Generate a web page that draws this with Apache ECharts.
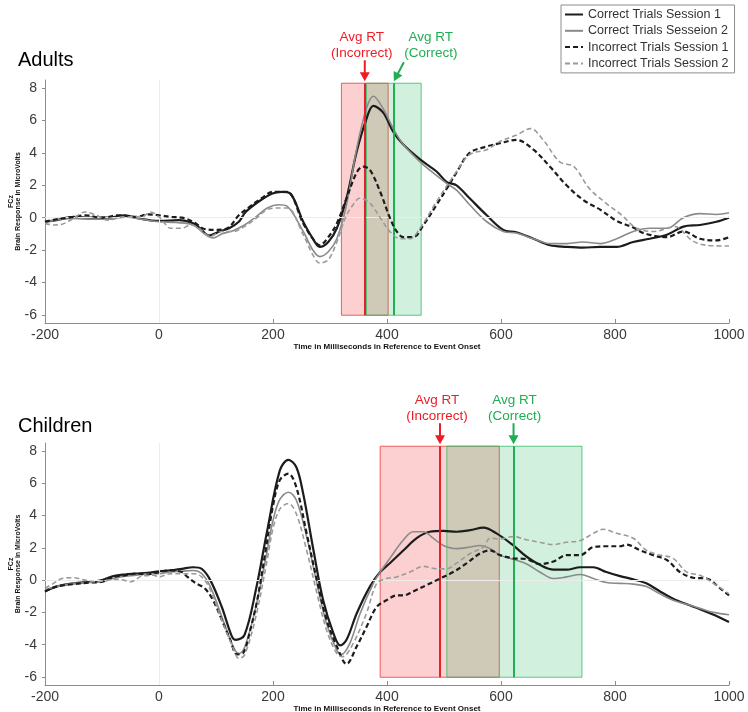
<!DOCTYPE html>
<html>
<head>
<meta charset="utf-8">
<script src="https://cdn.jsdelivr.net/npm/echarts@6/dist/echarts.min.js"></script>
<style>
html,body{margin:0;padding:0;background:#fff;}
#chart{width:748px;height:712px;}
</style>
</head>
<body>
<div id="chart"></div>
<script>
// ---------- DATA ----------
const seriesNames = ['Correct Trials Session 1','Correct Trials Sesseion 2','Incorrect Trials Session 1','Incorrect Trials Session 2'];
const panelTitles = ['Adults','Children'];
const yAxisTitle = ['FCz', 'Brain Response in MicroVolts'];
const xTicks = [-200,0,200,400,600,800,1000];
const yTicks = [-6,-4,-2,0,2,4,6,8];

// Adults: [time ms, microvolts]
const adultCorrect1 = [[-200,-0.25],[-180,-0.15],[-150,0.05],[-120,0],[-90,0],[-60,0.15],[-35,-0.05],[0,-0.2],[35,-0.15],[60,-0.35],[72,-0.65],[88,-1.1],[106,-0.85],[123,-0.65],[140,-0.25],[152,0.35],[175,1.0],[199,1.5],[215,1.6],[230,1.5],[253,-0.25],[270,-1.3],[282,-1.8],[297,-1.5],[312,-0.65],[329,1.2],[347,4.1],[364,6.1],[376,6.9],[393,6.5],[411,5.3],[429,4.5],[458,3.6],[487,2.85],[505,2.2],[522,2.0],[545,1.2],[575,0.15],[604,-0.75],[627,-0.9],[657,-1.3],[686,-1.7],[715,-1.8],[744,-1.85],[774,-1.8],[803,-1.8],[832,-1.5],[861,-1.3],[891,-1.05],[920,-0.55],[949,-0.45],[978,-0.25],[1000,0]];
const adultCorrect2 = [[-200,-0.25],[-180,-0.15],[-150,-0.05],[-120,-0.1],[-90,-0.1],[-60,0.05],[-30,-0.1],[0,-0.25],[30,-0.3],[60,-0.45],[80,-1.0],[95,-1.25],[110,-1.0],[130,-0.8],[150,-0.45],[170,0.05],[190,0.6],[210,0.8],[225,0.7],[253,-0.85],[270,-2.0],[282,-2.4],[297,-2.1],[312,-1.3],[329,0.8],[347,4.3],[364,6.75],[376,7.5],[393,6.75],[411,5.5],[429,4.5],[458,3.45],[487,2.6],[505,2.1],[522,1.7],[545,0.8],[575,-0.25],[604,-0.85],[627,-0.95],[657,-1.3],[686,-1.6],[715,-1.6],[744,-1.5],[774,-1.6],[803,-1.3],[832,-0.85],[861,-0.65],[891,-0.65],[920,0],[949,0.25],[978,0.2],[1000,0.3]];
const adultIncorrect1 = [[-200,-0.25],[-180,-0.1],[-150,0.05],[-130,0.15],[-100,0],[-70,0.15],[-40,0.05],[-20,0.2],[0,0.15],[20,0.05],[40,0],[60,-0.25],[80,-0.7],[100,-0.75],[120,-0.65],[140,0.15],[160,0.7],[180,1.2],[200,1.6],[224,1.6],[253,-0.35],[270,-1.3],[282,-1.7],[297,-1.2],[312,-0.35],[329,1.2],[347,2.8],[358,3.15],[370,2.95],[388,1.6],[405,0],[417,-0.85],[429,-1.2],[446,-1.2],[464,-0.45],[487,0.8],[505,1.8],[522,2.8],[545,4.0],[575,4.4],[598,4.6],[627,4.8],[657,4.2],[686,3.15],[715,2.0],[744,1.1],[774,0.5],[803,-0.2],[832,-0.6],[850,-0.95],[891,-1.2],[920,-0.85],[949,-1.3],[978,-1.4],[1000,-1.2]];
const adultIncorrect2 = [[-200,-0.35],[-185,-0.45],[-170,-0.4],[-150,-0.05],[-130,0.35],[-110,0.15],[-90,-0.15],[-70,0],[-50,0.05],[-30,0.05],[-15,0.35],[0,0.05],[10,-0.35],[20,-0.65],[40,-0.65],[55,-0.45],[70,-0.65],[90,-1.15],[110,-0.85],[130,-0.85],[150,-0.55],[170,-0.05],[190,0.5],[210,0.6],[225,0.6],[253,-1.05],[270,-2.3],[282,-2.8],[297,-2.6],[312,-1.5],[329,0.15],[347,1.1],[352,1.2],[370,0.9],[388,0],[405,-0.85],[423,-1.3],[440,-1.3],[458,-0.65],[487,1.0],[522,2.85],[545,3.9],[575,4.2],[598,4.7],[627,5.1],[652,5.5],[674,4.8],[703,3.45],[728,3.15],[755,1.8],[784,0.9],[812,0.15],[838,-0.65],[868,-0.85],[905,-0.55],[935,-1.4],[960,-1.7],[1000,-1.75]];

// Children: [time ms, microvolts]
const childCorrect1 = [[-200,-0.7],[-180,-0.4],[-150,-0.2],[-120,-0.1],[-100,0],[-80,0.25],[-60,0.35],[-40,0.4],[-20,0.45],[0,0.55],[20,0.6],[40,0.7],[60,0.8],[75,0.7],[90,0],[110,-1.65],[128,-3.5],[135,-3.7],[150,-3.4],[170,-0.6],[190,3.1],[212,6.8],[227,7.45],[241,7.0],[253,5.35],[271,1.85],[288,-1.25],[306,-3.3],[318,-4.05],[329,-3.7],[347,-2.05],[370,-0.4],[388,0.5],[405,1.05],[429,1.85],[452,2.6],[475,3.0],[499,3.05],[522,3.0],[546,3.1],[569,3.25],[592,2.9],[620,2.2],[645,1.45],[668,0.95],[692,0.65],[715,0.65],[739,0.8],[762,0.8],[785,0.5],[809,0.25],[832,0.05],[855,-0.2],[879,-0.7],[902,-1.15],[926,-1.5],[949,-1.8],[973,-2.15],[1000,-2.6]];
const childCorrect2 = [[-200,-0.6],[-180,-0.4],[-150,-0.2],[-120,-0.15],[-100,-0.1],[-80,0.1],[-60,0.25],[-40,0.3],[-20,0.4],[0,0.4],[20,0.5],[40,0.55],[60,0.6],[75,0.4],[90,-0.4],[110,-2.25],[130,-4.1],[140,-4.55],[150,-4.2],[170,-1.65],[190,1.85],[200,3.7],[212,5.0],[227,5.45],[241,4.95],[259,2.7],[277,-0.2],[294,-2.7],[312,-4.35],[320,-4.6],[335,-3.9],[353,-2.05],[376,-0.2],[388,0.5],[405,1.35],[429,2.5],[446,3.0],[464,3.0],[481,2.6],[499,2.15],[522,1.95],[546,2.05],[563,2.15],[581,1.95],[598,1.55],[620,1.3],[645,1.0],[668,0.5],[692,0.1],[715,0.2],[739,0.35],[762,0.1],[785,-0.15],[809,-0.2],[832,-0.25],[855,-0.4],[879,-0.85],[902,-1.25],[926,-1.5],[949,-1.75],[973,-2.0],[1000,-2.15]];
const childIncorrect1 = [[-200,-0.7],[-180,-0.4],[-150,-0.25],[-120,-0.15],[-100,-0.1],[-80,0.2],[-60,0.3],[-40,0.4],[-20,0.35],[0,0.5],[20,0.6],[40,0.5],[50,0.2],[65,-0.2],[80,-0.5],[95,-1.25],[110,-2.45],[125,-3.7],[137,-4.6],[148,-4.5],[160,-3.1],[172,-1.3],[186,1.6],[200,4.6],[212,6.2],[227,6.6],[241,5.75],[259,2.9],[277,0],[294,-2.45],[312,-4.1],[329,-5.2],[347,-4.1],[364,-2.9],[382,-1.65],[399,-1.25],[417,-0.95],[429,-0.95],[446,-0.7],[470,-0.3],[493,0.1],[516,0.5],[540,1.05],[563,1.65],[581,1.85],[598,1.55],[622,1.35],[645,1.3],[668,1.0],[692,1.15],[715,1.55],[739,1.55],[762,2.05],[785,2.1],[809,2.1],[820,2.2],[844,1.85],[867,1.55],[891,1.25],[914,0.5],[937,0.15],[961,0.1],[984,-0.5],[1000,-0.95]];
const childIncorrect2 = [[-200,-0.5],[-185,-0.2],[-170,0.1],[-150,0.15],[-130,0],[-110,-0.1],[-90,0],[-70,0.05],[-50,-0.1],[-30,0.25],[-10,0.3],[0,0.2],[20,0.4],[40,0.4],[60,0.4],[75,0.2],[90,-0.6],[110,-2.45],[130,-4.2],[140,-4.85],[150,-4.65],[170,-2.25],[190,1.3],[200,3.2],[212,4.4],[227,4.75],[241,4.1],[259,1.85],[277,-0.8],[294,-3.1],[312,-4.55],[322,-4.75],[341,-3.9],[364,-2.05],[382,-0.2],[399,0.1],[417,0.2],[440,0.5],[464,0.85],[487,0.7],[505,0.7],[522,1.05],[546,1.65],[569,2.05],[581,2.6],[598,2.55],[622,2.7],[645,2.5],[668,2.35],[692,2.2],[715,2.35],[739,2.45],[762,2.9],[779,3.15],[803,2.9],[832,2.6],[855,1.85],[879,1.55],[902,1.35],[926,0.5],[949,0.3],[973,-0.2],[1000,-0.85]];

// Reaction-time annotations (ms) and box extents
const adultIncorrectBox = [320, 402];
const adultCorrectBox = [364, 460];
const adultRT = [361, 412];            // [incorrect, correct]
const childIncorrectBox = [388, 597];
const childCorrectBox = [505, 742];
const childRT = [493, 622];
const boxRange = [-6.02, 8.3];         // microvolts
const rtLabels = ['Avg RT\n(Incorrect)', 'Avg RT\n(Correct)'];

// ---------- CHART ----------
const FONT = '"Liberation Sans", Arial, sans-serif';
const chart = echarts.init(document.getElementById('chart'), null, {renderer:'canvas'});

const grids = [
  {left:45, right:19, top:80, height:243, outerBoundsMode:'none', containLabel:false},
  {left:45, right:19, top:443, height:242, outerBoundsMode:'none', containLabel:false}
];

function xAxisDef(i){
  return {
    type:'value', gridIndex:i, min:-200, max:1000,
    name:'Time in Milliseconds in Reference to Event Onset',
    nameLocation:'middle', nameGap:16,
    nameTextStyle:{fontFamily:FONT, fontSize:8, fontWeight:'bold', color:'#111'},
    axisLine:{show:true, onZero:false, lineStyle:{color:'#8c8c8c', width:1}},
    axisTick:{show:true, inside:true, length:4, customValues:xTicks, lineStyle:{color:'#8c8c8c'}},
    axisLabel:{customValues:xTicks, formatter:(v)=>String(v), fontFamily:FONT, fontSize:14, color:'#3a3a3a', margin:5},
    splitLine:{show:false}
  };
}
function yAxisDef(i){
  return {
    type:'value', gridIndex:i, min:-6.5, max:8.5,
    axisLine:{show:true, onZero:false, lineStyle:{color:'#8c8c8c', width:1}},
    axisTick:{show:true, inside:false, length:3, customValues:yTicks, lineStyle:{color:'#8c8c8c'}},
    axisLabel:{customValues:yTicks, formatter:(v)=>String(v), fontFamily:FONT, fontSize:14, color:'#3a3a3a', margin:8},
    splitLine:{show:false}
  };
}

const styles = [
  {color:'#1c1c1c', width:2.2, type:'solid'},
  {color:'#8a8a8a', width:1.6, type:'solid'},
  {color:'#1c1c1c', width:2.2, type:[5,3]},
  {color:'#9a9a9a', width:1.6, type:[5,3]}
];

const panelData = [
  [adultCorrect1, adultCorrect2, adultIncorrect1, adultIncorrect2],
  [childCorrect1, childCorrect2, childIncorrect1, childIncorrect2]
];
const panelBoxes = [
  {inc:adultIncorrectBox, cor:adultCorrectBox, rt:adultRT},
  {inc:childIncorrectBox, cor:childCorrectBox, rt:childRT}
];

const series = [];
panelData.forEach((arr, p) => {
  const b = panelBoxes[p];
  arr.forEach((d, k) => {
    const s = {
      name: seriesNames[k], type:'line', xAxisIndex:p, yAxisIndex:p,
      data:d, showSymbol:false, symbol:'none', smooth:0.35,
      lineStyle:{color:styles[k].color, width:styles[k].width, type:styles[k].type},
      itemStyle:{color:styles[k].color},
      z: 3 + k, animation:false
    };
    if (k === 0) {
      s.markLine = {silent:true, symbol:['none','none'], label:{show:false},
        lineStyle:{color:'#ececec', width:1, type:'solid'}, animation:false,
        data:[{xAxis:0},{yAxis:0}]};
      s.markArea = {silent:true, animation:false,
        itemStyle:{color:'rgba(240,20,20,0.2)', borderColor:'rgba(235,70,70,0.85)', borderWidth:1},
        data:[[{coord:[b.inc[0], boxRange[0]]},{coord:[b.inc[1], boxRange[1]]}]]};
    }
    if (k === 1) {
      s.markArea = {silent:true, animation:false,
        itemStyle:{color:'rgba(30,180,90,0.2)', borderColor:'rgba(40,185,100,0.75)', borderWidth:1},
        data:[[{coord:[b.cor[0], boxRange[0]]},{coord:[b.cor[1], boxRange[1]]}]]};
      s.markLine = {silent:true, symbol:['none','none'], label:{show:false}, animation:false,
        lineStyle:{color:'#e3222b', width:2, type:'solid'},
        data:[[{coord:[b.rt[0], boxRange[0]]},{coord:[b.rt[0], boxRange[1]]}]]};
    }
    if (k === 2) {
      s.markLine = {silent:true, symbol:['none','none'], label:{show:false}, animation:false,
        lineStyle:{color:'#1fae52', width:2, type:'solid'},
        data:[[{coord:[b.rt[1], boxRange[0]]},{coord:[b.rt[1], boxRange[1]]}]]};
    }
    series.push(s);
  });
});

chart.setOption({
  animation:false,
  backgroundColor:'#ffffff',
  textStyle:{fontFamily:FONT},
  title: panelTitles.map((t, i) => ({
    text:t, left:18, top: i === 0 ? 50 : 416, padding:0,
    textStyle:{fontFamily:FONT, fontSize:20, fontWeight:'normal', color:'#000'}
  })),
  legend:{
    data:seriesNames, orient:'vertical', left:561, top:5,
    padding:[3,6,3,3], itemGap:3.3, itemWidth:18, itemHeight:13,
    borderColor:'#8c8c8c', borderWidth:1, backgroundColor:'#fff',
    selectedMode:false,
    itemStyle:{opacity:0, borderWidth:0},
    textStyle:{fontFamily:FONT, fontSize:12.5, color:'#333'}
  },
  grid: grids,
  xAxis:[xAxisDef(0), xAxisDef(1)],
  yAxis:[yAxisDef(0), yAxisDef(1)],
  series: series
});

// ---------- arrows, labels and y-axis titles positioned from data ----------
function arrowGroup(tip, start, color){
  const dx = tip[0]-start[0], dy = tip[1]-start[1];
  const len = Math.sqrt(dx*dx+dy*dy);
  const ux = dx/len, uy = dy/len, nx = -uy, ny = ux;
  const hl = 9, hw = 5;
  const bx = tip[0]-ux*hl, by = tip[1]-uy*hl;
  return [
    {type:'line', silent:true, z:100, shape:{x1:start[0], y1:start[1], x2:bx+ux*1, y2:by+uy*1},
      style:{stroke:color, lineWidth:2}},
    {type:'polygon', silent:true, z:100, shape:{points:[[tip[0],tip[1]],[bx+nx*hw,by+ny*hw],[bx-nx*hw,by-ny*hw]]},
      style:{fill:color}}
  ];
}
function label(x, topY, text, color){
  return {type:'text', silent:true, z:100, x:x, y:topY,
    style:{text:text, fill:color, fontFamily:FONT, fontSize:13.5, lineHeight:16, align:'center', verticalAlign:'top'}};
}
function vText(x, y, text){
  return {type:'text', silent:true, z:100, x:x, y:y, rotation:Math.PI/2,
    style:{text:text, fill:'#111', fontFamily:FONT, fontSize:7, fontWeight:'bold', align:'center', verticalAlign:'middle'}};
}
const RED = '#ee1c24', GREEN = '#1fae52';
const graphics = [];
panelBoxes.forEach((b, p) => {
  const mid = chart.convertToPixel({gridIndex:p}, [-200, 1]);
  graphics.push(vText(mid[0]-34, mid[1], yAxisTitle[0]));
  graphics.push(vText(mid[0]-26.5, mid[1], yAxisTitle[1]));
  const tipR = chart.convertToPixel({gridIndex:p}, [b.rt[0], boxRange[1]]);
  const tipG = chart.convertToPixel({gridIndex:p}, [b.rt[1], boxRange[1]]);
  tipR[1] -= 2; tipG[1] -= 2;
  graphics.push(...arrowGroup(tipR, [tipR[0], tipR[1]-21], RED));
  graphics.push(label(tipR[0]-3, tipR[1]-52, rtLabels[0], RED));
  if (p === 0) {
    graphics.push(...arrowGroup(tipG, [tipG[0]+10, tipG[1]-19], GREEN));
    graphics.push(label(tipG[0]+37, tipG[1]-52, rtLabels[1], GREEN));
  } else {
    graphics.push(...arrowGroup(tipG, [tipG[0], tipG[1]-21], GREEN));
    graphics.push(label(tipG[0]+1, tipG[1]-52, rtLabels[1], GREEN));
  }
});
chart.setOption({graphic: graphics});
</script>
</body>
</html>
